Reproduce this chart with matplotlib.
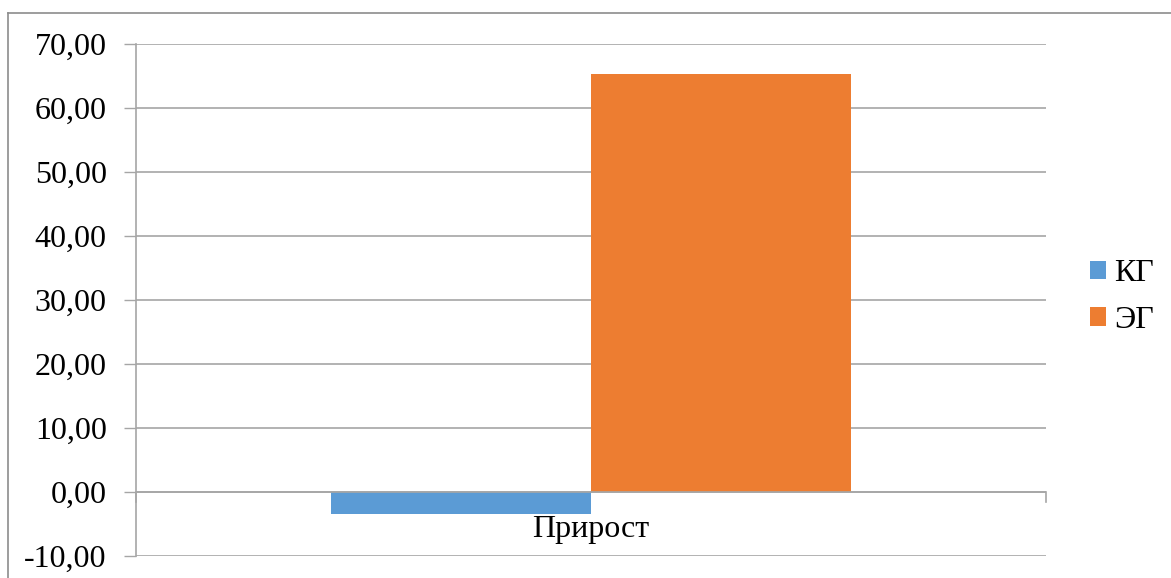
import matplotlib.pyplot as plt
from matplotlib.lines import Line2D

# Данные
categories = ['Прирост']
series_names = ['КГ', 'ЭГ']
series_values = [-3.4, 65.3]
colors = ['#5B9BD5', '#ED7D31']
yticks = [-10, 0, 10, 20, 30, 40, 50, 60, 70]

plt.rcParams['font.family'] = ['Liberation Serif', 'DejaVu Serif']

W, H = 1171, 578
fig = plt.figure(figsize=(W / 100, H / 100), dpi=100)

# рамка диаграммы (видны только левая и верхняя стороны)
fig.add_artist(Line2D([8 / W, 8 / W], [0, 1 - 13 / H], transform=fig.transFigure,
                      color='#8C8C8C', lw=1.2))
fig.add_artist(Line2D([8 / W, 1], [1 - 13 / H, 1 - 13 / H], transform=fig.transFigure,
                      color='#8C8C8C', lw=1.2))

left, right, top, bottom = 136, 1046, 44, 556
ax = fig.add_axes([left / W, 1 - bottom / H, (right - left) / W, (bottom - top) / H])

bar_w = 260 / 910
offsets = [-bar_w / 2, bar_w / 2]
for name, val, col, off in zip(series_names, series_values, colors, offsets):
    ax.bar(0.5 + off, val, width=bar_w, color=col, label=name, zorder=3)

ax.set_xlim(0, 1)
ax.set_ylim(-10, 70)
ax.set_yticks(yticks)
ax.set_yticklabels([f'{v:.2f}'.replace('.', ',') for v in yticks], fontsize=23)
ax.tick_params(axis='y', length=9, width=1, color='#A6A6A6', pad=12)
ax.grid(axis='y', color='#A6A6A6', lw=1.2, zorder=0)

ax.set_xticks([])
for s in ['top', 'right', 'bottom']:
    ax.spines[s].set_visible(False)
ax.spines['left'].set_color('#A6A6A6')
ax.spines['left'].set_linewidth(1.2)

# горизонтальная ось на нуле и засечки категорий
ax.axhline(0, color='#A6A6A6', lw=1.2, zorder=4)
for xx in [0, 1]:
    ax.plot([xx, xx], [0, -10 * 10 / 64], color='#A6A6A6', lw=1.2, clip_on=False, zorder=4)
ax.text(0.5, -10 * 38 / 64, categories[0], ha='center', va='center', fontsize=23)

handles, labels = ax.get_legend_handles_labels()
fig.legend(handles, labels, loc='center left', bbox_to_anchor=(1061 / W, 1 - 297 / H),
           frameon=False, fontsize=23, handlelength=0.5, handleheight=0.5,
           handletextpad=0.25, labelspacing=0.55)

fig.savefig('out.png', dpi=100)
